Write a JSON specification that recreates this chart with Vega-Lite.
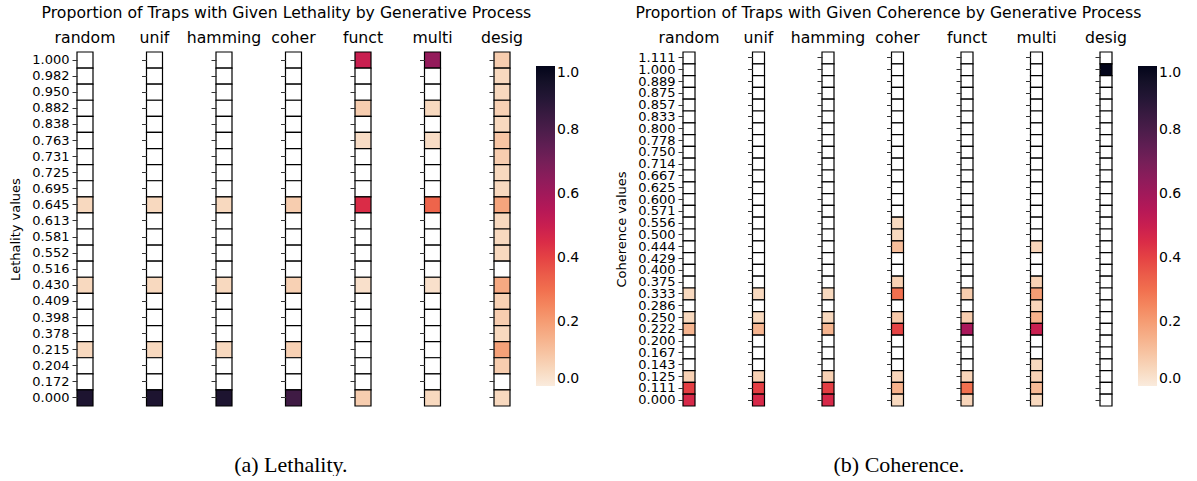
{
  "$schema": "https://vega.github.io/schema/vega-lite/v6.json",
  "background": "white",
  "padding": {"left": 9, "right": 5, "top": 5, "bottom": 0},
  "config": {
    "font": "DejaVu Sans",
    "view": {"stroke": null},
    "axis": {"domain": false, "ticks": true, "tickSize": 5, "tickColor": "#333", "tickWidth": 1, "labelFontSize": 13, "labelColor": "black", "labelPadding": 3, "labelOverlap": false, "titleFontSize": 13, "titleFontWeight": "normal", "titleColor": "black", "titlePadding": 9, "labelFont": "DejaVu Sans", "titleFont": "DejaVu Sans"},
    "title": {"font": "DejaVu Sans", "fontSize": 15.7, "fontWeight": "normal", "color": "black", "offset": 5, "anchor": "middle", "frame": "group"},
    "legend": {"gradientLength": 320, "gradientThickness": 19, "labelFontSize": 14, "labelColor": "black", "labelOffset": 6, "gradientStrokeWidth": 0, "direction": "vertical", "offset": -2, "padding": 14, "labelFont": "DejaVu Sans"}
  },
  "datasets": {
    "leth": [
      {"y": "1.000", "random": 0, "unif": 0, "hamming": 0, "coher": 0, "funct": 0.50, "multi": 0.63, "desig": 0.08},
      {"y": "0.982", "random": 0, "unif": 0, "hamming": 0, "coher": 0, "funct": 0, "multi": 0, "desig": 0.05},
      {"y": "0.950", "random": 0, "unif": 0, "hamming": 0, "coher": 0, "funct": 0, "multi": 0, "desig": 0.05},
      {"y": "0.882", "random": 0, "unif": 0, "hamming": 0, "coher": 0, "funct": 0.08, "multi": 0.05, "desig": 0.07},
      {"y": "0.838", "random": 0, "unif": 0, "hamming": 0, "coher": 0, "funct": 0, "multi": 0, "desig": 0.05},
      {"y": "0.763", "random": 0, "unif": 0, "hamming": 0, "coher": 0, "funct": 0.04, "multi": 0.04, "desig": 0.10},
      {"y": "0.731", "random": 0, "unif": 0, "hamming": 0, "coher": 0, "funct": 0, "multi": 0, "desig": 0.08},
      {"y": "0.725", "random": 0, "unif": 0, "hamming": 0, "coher": 0, "funct": 0, "multi": 0, "desig": 0.05},
      {"y": "0.695", "random": 0, "unif": 0, "hamming": 0, "coher": 0, "funct": 0, "multi": 0, "desig": 0.05},
      {"y": "0.645", "random": 0.05, "unif": 0.05, "hamming": 0.05, "coher": 0.08, "funct": 0.45, "multi": 0.33, "desig": 0.18},
      {"y": "0.613", "random": 0, "unif": 0, "hamming": 0, "coher": 0, "funct": 0, "multi": 0, "desig": 0.05},
      {"y": "0.581", "random": 0, "unif": 0, "hamming": 0, "coher": 0, "funct": 0, "multi": 0, "desig": 0.05},
      {"y": "0.552", "random": 0, "unif": 0, "hamming": 0, "coher": 0, "funct": 0, "multi": 0, "desig": 0.05},
      {"y": "0.516", "random": 0, "unif": 0, "hamming": 0, "coher": 0, "funct": 0, "multi": 0, "desig": 0},
      {"y": "0.430", "random": 0.05, "unif": 0.05, "hamming": 0.05, "coher": 0.07, "funct": 0.03, "multi": 0.03, "desig": 0.17},
      {"y": "0.409", "random": 0, "unif": 0, "hamming": 0, "coher": 0, "funct": 0, "multi": 0, "desig": 0.07},
      {"y": "0.398", "random": 0, "unif": 0, "hamming": 0, "coher": 0, "funct": 0, "multi": 0, "desig": 0.08},
      {"y": "0.378", "random": 0, "unif": 0, "hamming": 0, "coher": 0, "funct": 0, "multi": 0, "desig": 0.05},
      {"y": "0.215", "random": 0.05, "unif": 0.05, "hamming": 0.05, "coher": 0.07, "funct": 0, "multi": 0, "desig": 0.19},
      {"y": "0.204", "random": 0, "unif": 0, "hamming": 0, "coher": 0, "funct": 0, "multi": 0, "desig": 0.08},
      {"y": "0.172", "random": 0, "unif": 0, "hamming": 0, "coher": 0, "funct": 0, "multi": 0, "desig": 0},
      {"y": "0.000", "random": 0.92, "unif": 0.92, "hamming": 0.92, "coher": 0.83, "funct": 0.08, "multi": 0.05, "desig": 0.05}
    ],
    "coh": [
      {"y": "1.111", "random": 0, "unif": 0, "hamming": 0, "coher": 0, "funct": 0, "multi": 0, "desig": 0},
      {"y": "1.000", "random": 0, "unif": 0, "hamming": 0, "coher": 0, "funct": 0, "multi": 0, "desig": 1.0},
      {"y": "0.889", "random": 0, "unif": 0, "hamming": 0, "coher": 0, "funct": 0, "multi": 0, "desig": 0},
      {"y": "0.875", "random": 0, "unif": 0, "hamming": 0, "coher": 0, "funct": 0, "multi": 0, "desig": 0},
      {"y": "0.857", "random": 0, "unif": 0, "hamming": 0, "coher": 0, "funct": 0, "multi": 0, "desig": 0},
      {"y": "0.833", "random": 0, "unif": 0, "hamming": 0, "coher": 0, "funct": 0, "multi": 0, "desig": 0},
      {"y": "0.800", "random": 0, "unif": 0, "hamming": 0, "coher": 0, "funct": 0, "multi": 0, "desig": 0},
      {"y": "0.778", "random": 0, "unif": 0, "hamming": 0, "coher": 0, "funct": 0, "multi": 0, "desig": 0},
      {"y": "0.750", "random": 0, "unif": 0, "hamming": 0, "coher": 0, "funct": 0, "multi": 0, "desig": 0},
      {"y": "0.714", "random": 0, "unif": 0, "hamming": 0, "coher": 0, "funct": 0, "multi": 0, "desig": 0},
      {"y": "0.667", "random": 0, "unif": 0, "hamming": 0, "coher": 0, "funct": 0, "multi": 0, "desig": 0},
      {"y": "0.625", "random": 0, "unif": 0, "hamming": 0, "coher": 0, "funct": 0, "multi": 0, "desig": 0},
      {"y": "0.600", "random": 0, "unif": 0, "hamming": 0, "coher": 0, "funct": 0, "multi": 0, "desig": 0},
      {"y": "0.571", "random": 0, "unif": 0, "hamming": 0, "coher": 0, "funct": 0, "multi": 0, "desig": 0},
      {"y": "0.556", "random": 0, "unif": 0, "hamming": 0, "coher": 0.05, "funct": 0, "multi": 0, "desig": 0},
      {"y": "0.500", "random": 0, "unif": 0, "hamming": 0, "coher": 0.05, "funct": 0, "multi": 0, "desig": 0},
      {"y": "0.444", "random": 0, "unif": 0, "hamming": 0, "coher": 0.12, "funct": 0, "multi": 0.06, "desig": 0},
      {"y": "0.429", "random": 0, "unif": 0, "hamming": 0, "coher": 0, "funct": 0, "multi": 0, "desig": 0},
      {"y": "0.400", "random": 0, "unif": 0, "hamming": 0, "coher": 0, "funct": 0, "multi": 0, "desig": 0},
      {"y": "0.375", "random": 0, "unif": 0, "hamming": 0, "coher": 0.07, "funct": 0, "multi": 0.07, "desig": 0},
      {"y": "0.333", "random": 0.05, "unif": 0.05, "hamming": 0.05, "coher": 0.30, "funct": 0.08, "multi": 0.20, "desig": 0},
      {"y": "0.286", "random": 0, "unif": 0, "hamming": 0, "coher": 0, "funct": 0, "multi": 0.06, "desig": 0},
      {"y": "0.250", "random": 0.05, "unif": 0.05, "hamming": 0.05, "coher": 0.09, "funct": 0.08, "multi": 0.15, "desig": 0},
      {"y": "0.222", "random": 0.14, "unif": 0.14, "hamming": 0.14, "coher": 0.40, "funct": 0.58, "multi": 0.50, "desig": 0},
      {"y": "0.200", "random": 0, "unif": 0, "hamming": 0, "coher": 0, "funct": 0, "multi": 0, "desig": 0},
      {"y": "0.167", "random": 0, "unif": 0, "hamming": 0, "coher": 0, "funct": 0, "multi": 0, "desig": 0},
      {"y": "0.143", "random": 0, "unif": 0, "hamming": 0, "coher": 0, "funct": 0, "multi": 0.05, "desig": 0},
      {"y": "0.125", "random": 0.07, "unif": 0.07, "hamming": 0.07, "coher": 0.06, "funct": 0.06, "multi": 0.07, "desig": 0},
      {"y": "0.111", "random": 0.41, "unif": 0.41, "hamming": 0.41, "coher": 0.15, "funct": 0.30, "multi": 0.13, "desig": 0},
      {"y": "0.000", "random": 0.46, "unif": 0.46, "hamming": 0.46, "coher": 0.05, "funct": 0.06, "multi": 0.05, "desig": 0}
    ]
  },
  "resolve": {"scale": {"color": "independent"}},
  "spacing": 21,
  "hconcat": [
    {
      "title": {"text": "(a) Lethality.", "orient": "bottom", "font": "Liberation Serif", "fontSize": 22, "offset": 48, "frame": "bounds", "dx": -11},
      "hconcat": [
        {
          "title": {"text": "Proportion of Traps with Given Lethality by Generative Process", "offset": 8, "frame": "bounds", "dx": 20},
          "data": {"name": "leth"},
          "spacing": 53.5,
          "bounds": "flush",
          "hconcat": [
            {"width": 16, "height": 354, "title": "random", "mark": {"type": "rect", "stroke": "black", "strokeWidth": 1.2},
             "encoding": {"y": {"field": "y", "type": "ordinal", "sort": "descending", "axis": {"title": "Lethality values"}},
              "color": {"condition": {"test": "datum.random == 0", "value": "white"}, "field": "random", "type": "quantitative", "scale": {"domain": [0, 1], "range": ["#faebdd", "#f6b48f", "#f37651", "#e13342", "#ad1759", "#701f57", "#35193e", "#03051a"]}, "legend": {"title": null, "offset": -10, "values": [0, 0.2, 0.4, 0.6, 0.8, 1], "format": ".1f"}}}},
            {"width": 16, "height": 354, "title": "unif", "mark": {"type": "rect", "stroke": "black", "strokeWidth": 1.2},
             "encoding": {"y": {"field": "y", "type": "ordinal", "sort": "descending", "axis": {"title": null, "labels": false}},
              "color": {"condition": {"test": "datum.unif == 0", "value": "white"}, "field": "unif", "type": "quantitative", "scale": {"domain": [0, 1], "range": ["#faebdd", "#f6b48f", "#f37651", "#e13342", "#ad1759", "#701f57", "#35193e", "#03051a"]}, "legend": {"title": null, "offset": -10, "values": [0, 0.2, 0.4, 0.6, 0.8, 1], "format": ".1f"}}}},
            {"width": 16, "height": 354, "title": "hamming", "mark": {"type": "rect", "stroke": "black", "strokeWidth": 1.2},
             "encoding": {"y": {"field": "y", "type": "ordinal", "sort": "descending", "axis": {"title": null, "labels": false}},
              "color": {"condition": {"test": "datum.hamming == 0", "value": "white"}, "field": "hamming", "type": "quantitative", "scale": {"domain": [0, 1], "range": ["#faebdd", "#f6b48f", "#f37651", "#e13342", "#ad1759", "#701f57", "#35193e", "#03051a"]}, "legend": {"title": null, "offset": -10, "values": [0, 0.2, 0.4, 0.6, 0.8, 1], "format": ".1f"}}}},
            {"width": 16, "height": 354, "title": "coher", "mark": {"type": "rect", "stroke": "black", "strokeWidth": 1.2},
             "encoding": {"y": {"field": "y", "type": "ordinal", "sort": "descending", "axis": {"title": null, "labels": false}},
              "color": {"condition": {"test": "datum.coher == 0", "value": "white"}, "field": "coher", "type": "quantitative", "scale": {"domain": [0, 1], "range": ["#faebdd", "#f6b48f", "#f37651", "#e13342", "#ad1759", "#701f57", "#35193e", "#03051a"]}, "legend": {"title": null, "offset": -10, "values": [0, 0.2, 0.4, 0.6, 0.8, 1], "format": ".1f"}}}},
            {"width": 16, "height": 354, "title": "funct", "mark": {"type": "rect", "stroke": "black", "strokeWidth": 1.2},
             "encoding": {"y": {"field": "y", "type": "ordinal", "sort": "descending", "axis": {"title": null, "labels": false}},
              "color": {"condition": {"test": "datum.funct == 0", "value": "white"}, "field": "funct", "type": "quantitative", "scale": {"domain": [0, 1], "range": ["#faebdd", "#f6b48f", "#f37651", "#e13342", "#ad1759", "#701f57", "#35193e", "#03051a"]}, "legend": {"title": null, "offset": -10, "values": [0, 0.2, 0.4, 0.6, 0.8, 1], "format": ".1f"}}}},
            {"width": 16, "height": 354, "title": "multi", "mark": {"type": "rect", "stroke": "black", "strokeWidth": 1.2},
             "encoding": {"y": {"field": "y", "type": "ordinal", "sort": "descending", "axis": {"title": null, "labels": false}},
              "color": {"condition": {"test": "datum.multi == 0", "value": "white"}, "field": "multi", "type": "quantitative", "scale": {"domain": [0, 1], "range": ["#faebdd", "#f6b48f", "#f37651", "#e13342", "#ad1759", "#701f57", "#35193e", "#03051a"]}, "legend": {"title": null, "offset": -10, "values": [0, 0.2, 0.4, 0.6, 0.8, 1], "format": ".1f"}}}},
            {"width": 16, "height": 354, "title": "desig", "mark": {"type": "rect", "stroke": "black", "strokeWidth": 1.2},
             "encoding": {"y": {"field": "y", "type": "ordinal", "sort": "descending", "axis": {"title": null, "labels": false}},
              "color": {"condition": {"test": "datum.desig == 0", "value": "white"}, "field": "desig", "type": "quantitative", "scale": {"domain": [0, 1], "range": ["#faebdd", "#f6b48f", "#f37651", "#e13342", "#ad1759", "#701f57", "#35193e", "#03051a"]}, "legend": {"title": null, "offset": -10, "values": [0, 0.2, 0.4, 0.6, 0.8, 1], "format": ".1f"}}}}
          ]
        }
      ]
    },
    {
      "title": {"text": "(b) Coherence.", "orient": "bottom", "font": "Liberation Serif", "fontSize": 22, "offset": 48, "frame": "bounds", "dx": -7},
      "hconcat": [
        {
          "title": {"text": "Proportion of Traps with Given Coherence by Generative Process", "offset": 8, "frame": "bounds", "dx": 17},
          "data": {"name": "coh"},
          "spacing": 57.5,
          "bounds": "flush",
          "hconcat": [
            {"width": 12, "height": 354, "title": "random", "mark": {"type": "rect", "stroke": "black", "strokeWidth": 1.2},
             "encoding": {"y": {"field": "y", "type": "ordinal", "sort": "descending", "axis": {"title": "Coherence values"}},
              "color": {"condition": {"test": "datum.random == 0", "value": "white"}, "field": "random", "type": "quantitative", "scale": {"domain": [0, 1], "range": ["#faebdd", "#f6b48f", "#f37651", "#e13342", "#ad1759", "#701f57", "#35193e", "#03051a"]}, "legend": {"title": null, "offset": -18, "values": [0, 0.2, 0.4, 0.6, 0.8, 1], "format": ".1f"}}}},
            {"width": 12, "height": 354, "title": "unif", "mark": {"type": "rect", "stroke": "black", "strokeWidth": 1.2},
             "encoding": {"y": {"field": "y", "type": "ordinal", "sort": "descending", "axis": {"title": null, "labels": false}},
              "color": {"condition": {"test": "datum.unif == 0", "value": "white"}, "field": "unif", "type": "quantitative", "scale": {"domain": [0, 1], "range": ["#faebdd", "#f6b48f", "#f37651", "#e13342", "#ad1759", "#701f57", "#35193e", "#03051a"]}, "legend": {"title": null, "offset": -18, "values": [0, 0.2, 0.4, 0.6, 0.8, 1], "format": ".1f"}}}},
            {"width": 12, "height": 354, "title": "hamming", "mark": {"type": "rect", "stroke": "black", "strokeWidth": 1.2},
             "encoding": {"y": {"field": "y", "type": "ordinal", "sort": "descending", "axis": {"title": null, "labels": false}},
              "color": {"condition": {"test": "datum.hamming == 0", "value": "white"}, "field": "hamming", "type": "quantitative", "scale": {"domain": [0, 1], "range": ["#faebdd", "#f6b48f", "#f37651", "#e13342", "#ad1759", "#701f57", "#35193e", "#03051a"]}, "legend": {"title": null, "offset": -18, "values": [0, 0.2, 0.4, 0.6, 0.8, 1], "format": ".1f"}}}},
            {"width": 12, "height": 354, "title": "coher", "mark": {"type": "rect", "stroke": "black", "strokeWidth": 1.2},
             "encoding": {"y": {"field": "y", "type": "ordinal", "sort": "descending", "axis": {"title": null, "labels": false}},
              "color": {"condition": {"test": "datum.coher == 0", "value": "white"}, "field": "coher", "type": "quantitative", "scale": {"domain": [0, 1], "range": ["#faebdd", "#f6b48f", "#f37651", "#e13342", "#ad1759", "#701f57", "#35193e", "#03051a"]}, "legend": {"title": null, "offset": -18, "values": [0, 0.2, 0.4, 0.6, 0.8, 1], "format": ".1f"}}}},
            {"width": 12, "height": 354, "title": "funct", "mark": {"type": "rect", "stroke": "black", "strokeWidth": 1.2},
             "encoding": {"y": {"field": "y", "type": "ordinal", "sort": "descending", "axis": {"title": null, "labels": false}},
              "color": {"condition": {"test": "datum.funct == 0", "value": "white"}, "field": "funct", "type": "quantitative", "scale": {"domain": [0, 1], "range": ["#faebdd", "#f6b48f", "#f37651", "#e13342", "#ad1759", "#701f57", "#35193e", "#03051a"]}, "legend": {"title": null, "offset": -18, "values": [0, 0.2, 0.4, 0.6, 0.8, 1], "format": ".1f"}}}},
            {"width": 12, "height": 354, "title": "multi", "mark": {"type": "rect", "stroke": "black", "strokeWidth": 1.2},
             "encoding": {"y": {"field": "y", "type": "ordinal", "sort": "descending", "axis": {"title": null, "labels": false}},
              "color": {"condition": {"test": "datum.multi == 0", "value": "white"}, "field": "multi", "type": "quantitative", "scale": {"domain": [0, 1], "range": ["#faebdd", "#f6b48f", "#f37651", "#e13342", "#ad1759", "#701f57", "#35193e", "#03051a"]}, "legend": {"title": null, "offset": -18, "values": [0, 0.2, 0.4, 0.6, 0.8, 1], "format": ".1f"}}}},
            {"width": 12, "height": 354, "title": "desig", "mark": {"type": "rect", "stroke": "black", "strokeWidth": 1.2},
             "encoding": {"y": {"field": "y", "type": "ordinal", "sort": "descending", "axis": {"title": null, "labels": false}},
              "color": {"condition": {"test": "datum.desig == 0", "value": "white"}, "field": "desig", "type": "quantitative", "scale": {"domain": [0, 1], "range": ["#faebdd", "#f6b48f", "#f37651", "#e13342", "#ad1759", "#701f57", "#35193e", "#03051a"]}, "legend": {"title": null, "offset": -18, "values": [0, 0.2, 0.4, 0.6, 0.8, 1], "format": ".1f"}}}}
          ]
        }
      ]
    }
  ]
}
